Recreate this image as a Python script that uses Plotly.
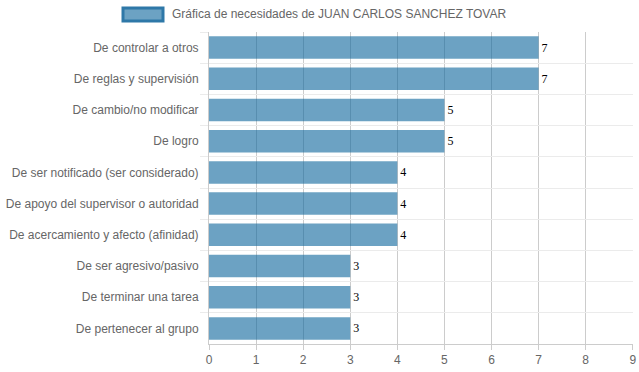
import plotly.graph_objects as go

categories = [
    "De controlar a otros",
    "De reglas y supervisión",
    "De cambio/no modificar",
    "De logro",
    "De ser notificado (ser considerado)",
    "De apoyo del supervisor o autoridad",
    "De acercamiento y afecto (afinidad)",
    "De ser agresivo/pasivo",
    "De terminar una tarea",
    "De pertenecer al grupo",
]
values = [7, 7, 5, 5, 4, 4, 4, 3, 3, 3]
series_name = "Gráfica de necesidades de JUAN CARLOS SANCHEZ TOVAR"
x_ticks = list(range(0, 10))

W, H = 639, 372
ML, MR, MT, MB = 209, 6, 32, 28
PW, PH = W - ML - MR, H - MT - MB


def px_x(x):
    return (x - ML) / PW


def px_y(y):
    return (H - MB - y) / PH


fig = go.Figure()
fig.add_trace(go.Bar(
    x=values,
    y=categories,
    orientation="h",
    name=series_name,
    marker=dict(color="rgba(10,100,155,0.6)", line=dict(width=0)),
    text=[str(v) for v in values],
    textposition="outside",
    textfont=dict(family="Liberation Serif", size=12, color="#000"),
    cliponaxis=False,
    showlegend=False,
    hoverinfo="skip",
))

# legend box (drawn manually to match the wide swatch)
fig.add_shape(type="rect", xref="paper", yref="paper",
              x0=px_x(123), x1=px_x(163), y0=px_y(21), y1=px_y(8),
              fillcolor="rgba(10,100,155,0.6)",
              line=dict(color="rgb(46,120,168)", width=3))
fig.add_annotation(xref="paper", yref="paper", x=px_x(170), y=px_y(14.5),
                   text=series_name, showarrow=False, xanchor="left", yanchor="middle",
                   font=dict(family="Liberation Sans", size=12, color="#666"))

fig.update_layout(
    width=W, height=H,
    margin=dict(l=ML, r=MR, t=MT, b=MB, autoexpand=False),
    paper_bgcolor="white", plot_bgcolor="white",
    bargap=0.28,
    font=dict(family="Liberation Sans", size=12, color="#666"),
    xaxis=dict(range=[0, 9.005], tickvals=x_ticks, showgrid=True, gridcolor="#cccccc",
               gridwidth=1, zeroline=False, showline=True, linecolor="#cccccc",
               ticks="outside", ticklen=5, tickcolor="#cccccc", automargin=False,
               tickfont=dict(family="Liberation Sans", size=12, color="#666")),
    yaxis=dict(categoryorder="array", categoryarray=categories, autorange="reversed",
               tickson="boundaries", showgrid=True, gridcolor="#ebebeb",
               ticks="outside", ticklen=8, tickcolor="#ebebeb", automargin=False,
               ticklabelstandoff=7,
               showline=True, linecolor="#cccccc", zeroline=False,
               tickfont=dict(family="Liberation Sans", size=12, color="#666")),
)

fig.write_html(
    "out.html",
    config={"displayModeBar": False},
    post_script="document.body.style.margin='0';document.body.style.overflow='hidden';",
)
